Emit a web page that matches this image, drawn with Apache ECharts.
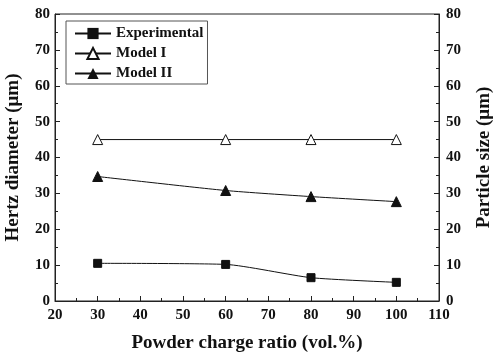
<!DOCTYPE html>
<html><head><meta charset="utf-8">
<script src="https://cdn.jsdelivr.net/npm/echarts@6/dist/echarts.min.js"></script>
<style>html,body{margin:0;padding:0;background:#fff}#c{width:498px;height:360px}</style>
</head><body><div id="c"></div>
<script>
const xValues = [30, 60, 80, 100];
const experimental = [10.5, 10.2, 6.5, 5.2];
const modelI = [45, 45, 45, 45];
const modelII = [34.7, 30.8, 29.1, 27.7];
const seriesNames = ['Experimental', 'Model I', 'Model II'];
const xTitle = 'Powder charge ratio (vol.%)';
const yTitleLeft = 'Hertz diameter (\u03bcm)';
const yTitleRight = 'Particle size (\u03bcm)';

const font = 'Liberation Serif';
const pair = arr => xValues.map((x, i) => [x, arr[i]]);
const chart = echarts.init(document.getElementById('c'), null, {renderer: 'canvas'});
const axisLine = {show: true, lineStyle: {color: '#222', width: 1}};
const yCommon = {
  type: 'value', min: 0, max: 80, interval: 10,
  axisLine: axisLine,
  axisTick: {show: true, inside: true, length: 5, lineStyle: {color: '#222'}},
  minorTick: {show: true, splitNumber: 2, length: 3, lineStyle: {color: '#222'}},
  splitLine: {show: false},
  nameLocation: 'middle',
  nameTextStyle: {fontFamily: font, fontWeight: 'bold', fontSize: 19, color: '#111'},
  axisLabel: {fontFamily: font, fontWeight: 'bold', fontSize: 15, color: '#111'}
};
chart.setOption({
  animation: false,
  grid: {left: 55, right: 59, top: 14, bottom: 59, show: true, borderColor: '#222', borderWidth: 1,
    containLabel: false, outerBoundsMode: 'none'},
  legend: {
    orient: 'vertical', left: 66, top: 21,
    data: seriesNames,
    itemWidth: 36, itemHeight: 14, itemGap: 5,
    padding: [5, 4, 3, 8],
    borderColor: '#555', borderWidth: 1,
    textStyle: {fontFamily: font, fontWeight: 'bold', fontSize: 15, color: '#111'}
  },
  xAxis: {
    type: 'value', min: 20, max: 110, interval: 10,
    name: xTitle, nameLocation: 'middle', nameGap: 33,
    nameTextStyle: {fontFamily: font, fontWeight: 'bold', fontSize: 19, color: '#111'},
    axisLine: axisLine,
    axisTick: {show: true, inside: true, length: 5, lineStyle: {color: '#222'}},
    minorTick: {show: true, splitNumber: 2, length: 3, lineStyle: {color: '#222'}},
    splitLine: {show: false},
    axisLabel: {fontFamily: font, fontWeight: 'bold', fontSize: 15, color: '#111', margin: 7}
  },
  yAxis: [
    Object.assign({}, yCommon, {position: 'left', name: yTitleLeft, nameGap: 32,
      axisLabel: Object.assign({}, yCommon.axisLabel, {margin: 5})}),
    Object.assign({}, yCommon, {position: 'right', name: yTitleRight, nameGap: 36, nameRotate: 90,
      axisLabel: Object.assign({}, yCommon.axisLabel, {margin: 7})})
  ],
  series: [
    {name: seriesNames[0], type: 'line', data: pair(experimental), smooth: 0.2,
      symbol: 'rect', symbolSize: 8, lineStyle: {color: '#111', width: 1},
      itemStyle: {color: '#111', borderColor: '#111'}},
    {name: seriesNames[1], type: 'line', data: pair(modelI), smooth: false,
      symbol: 'triangle', symbolSize: 10, lineStyle: {color: '#111', width: 1},
      itemStyle: {color: '#fff', borderColor: '#111', borderWidth: 1}},
    {name: seriesNames[2], type: 'line', data: pair(modelII), smooth: 0.2,
      symbol: 'triangle', symbolSize: 10, lineStyle: {color: '#111', width: 1},
      itemStyle: {color: '#111', borderColor: '#111'}}
  ]
});
</script></body></html>
